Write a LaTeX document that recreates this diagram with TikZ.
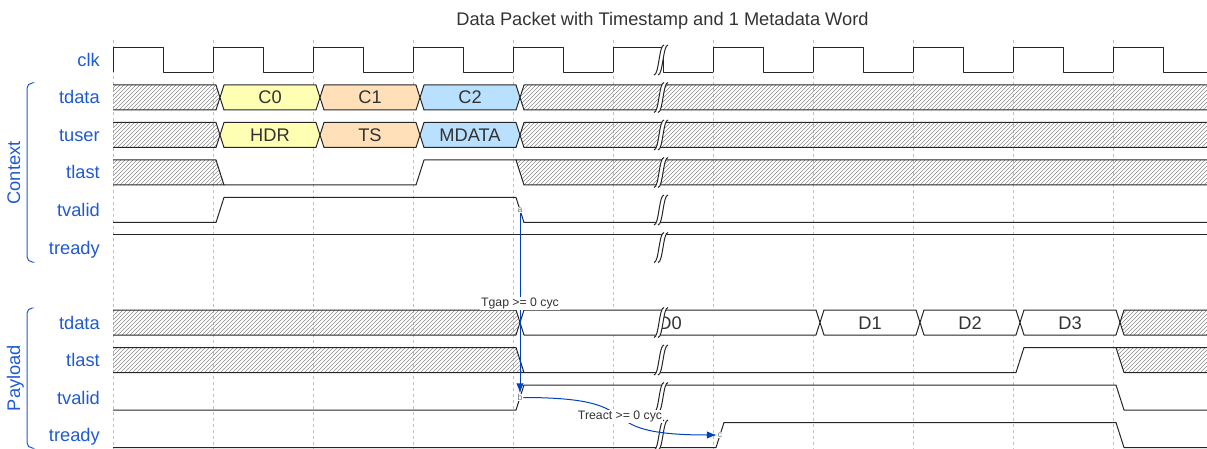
\documentclass[tikz,border=0pt]{standalone}
\usepackage{fontspec}
\setmainfont{Liberation Sans}
\usetikzlibrary{patterns,arrows.meta}
\definecolor{wdblue}{RGB}{30,90,210}
\definecolor{arrblue}{RGB}{0,65,196}
\definecolor{sy}{HTML}{FFFFB4}
\definecolor{so}{HTML}{FFE0B9}
\definecolor{sb}{HTML}{B9E0FF}
\newcommand\mydata[6]{%
  \draw[wave, fill=#4] (#1,#3+12.5) -- (#1+4,#3) -- (#2-4,#3) -- (#2,#3+12.5) -- (#2-4,#3+25) -- (#1+4,#3+25) -- cycle;
  \node[dtxt] (#6) at ({(#1+#2)/2},#3+19) {#5};}
\begin{document}
\begin{tikzpicture}[x=0.75pt,y=-0.75pt,
  wave/.style={line width=0.75pt, draw=black!85, line join=round},
  hatch/.style={pattern=north east lines, pattern color=black!45},
  gridline/.style={draw=black!25, line width=0.75pt, dash pattern=on 2.25pt off 2.25pt},
  lbl/.style={font=\fontsize{13.7pt}{16pt}\selectfont, text=wdblue, anchor=base east, inner sep=0pt},
  grp/.style={font=\fontsize{13.7pt}{16pt}\selectfont, text=wdblue, anchor=base, rotate=90, inner sep=0pt},
  dtxt/.style={font=\fontsize{13.7pt}{16pt}\selectfont, text=black!80, anchor=base, inner sep=0pt},
  ttl/.style={font=\fontsize{13.7pt}{16pt}\selectfont, text=black!80, anchor=base, inner sep=0pt},
  brace/.style={draw=wdblue, line width=0.75pt, rounded corners=4pt},
  nlbl/.style={font=\fontsize{6.5pt}{7pt}\selectfont, text=black!55, fill=white, inner sep=0.5pt},
  alabel/.style={font=\fontsize{9.2pt}{11pt}\selectfont, text=black!80, fill=white, inner sep=0.6pt},
  arr/.style={draw=arrblue, line width=0.75pt, -{Latex[length=7.5pt,width=5.5pt]}}
]
\useasboundingbox (0,0) rectangle (1207,449);
% grid
\foreach \i in {0,...,10} \draw[gridline] (113+100*\i,40) -- (113+100*\i,449);
% title
\node[ttl] (title) at (662.5,26) {Data Packet with Timestamp and 1 Metadata Word};
% signal labels
\node[lbl] (l-clk) at (100,66.5) {clk};
\node[lbl] (l-ctdata) at (100,104) {tdata};
\node[lbl] (l-ctuser) at (100,141.5) {tuser};
\node[lbl] (l-ctlast) at (100,179) {tlast};
\node[lbl] (l-ctvalid) at (100,216.5) {tvalid};
\node[lbl] (l-ctready) at (100,254) {tready};
\node[lbl] (l-ptdata) at (100,329) {tdata};
\node[lbl] (l-ptlast) at (100,366.5) {tlast};
\node[lbl] (l-ptvalid) at (100,404) {tvalid};
\node[lbl] (l-ptready) at (100,441.5) {tready};
% groups
\node[grp] (g-ctx) at (20,173) {Context};
\node[grp] (g-pay) at (20,378) {Payload};
\draw[brace] (32,83) -- (27,83) -- (27,262) -- (32,262);
\draw[brace] (32,308) -- (27,308) -- (27,448) -- (32,448);
% clk
\foreach \i in {0,...,10} \draw[wave] (113+100*\i,72.5) -- ++(0,-25) -- ++(50,0) -- ++(0,25) -- ++(50,0);
% context tdata
\draw[wave,hatch] (113,85) -- (216,85) -- (220,97.5) -- (216,110) -- (113,110);
\mydata{220}{320}{85}{sy}{C0}{d-c0}
\mydata{320}{420}{85}{so}{C1}{d-c1}
\mydata{420}{520}{85}{sb}{C2}{d-c2}
\draw[wave,hatch] (1212,85) -- (524,85) -- (520,97.5) -- (524,110) -- (1212,110);
% context tuser
\draw[wave,hatch] (113,122.5) -- (216,122.5) -- (220,135) -- (216,147.5) -- (113,147.5);
\mydata{220}{320}{122.5}{sy}{HDR}{d-hdr}
\mydata{320}{420}{122.5}{so}{TS}{d-ts}
\mydata{420}{520}{122.5}{sb}{MDATA}{d-mdata}
\draw[wave,hatch] (1212,122.5) -- (524,122.5) -- (520,135) -- (524,147.5) -- (1212,147.5);
% context tlast
\draw[wave,hatch] (113,160) -- (216,160) -- (224,185) -- (113,185);
\draw[wave] (224,185) -- (416,185) -- (424,160) -- (516,160);
\draw[wave,hatch] (1212,160) -- (516,160) -- (524,185) -- (1212,185);
% context tvalid
\draw[wave] (113,222.5) -- (216,222.5) -- (224,197.5) -- (516,197.5) -- (524,222.5) -- (1212,222.5);
% context tready
\draw[wave] (113,235) -- (1212,235);
% payload tdata
\draw[wave,hatch] (113,310) -- (516,310) -- (520,322.5) -- (516,335) -- (113,335);
\mydata{520}{820}{310}{white}{D0}{d-d0}
\mydata{820}{920}{310}{white}{D1}{d-d1}
\mydata{920}{1020}{310}{white}{D2}{d-d2}
\mydata{1020}{1120}{310}{white}{D3}{d-d3}
\draw[wave,hatch] (1212,310) -- (1124,310) -- (1120,322.5) -- (1124,335) -- (1212,335);
% payload tlast
\draw[wave,hatch] (113,347.5) -- (516,347.5) -- (524,372.5) -- (113,372.5);
\draw[wave] (524,372.5) -- (1016,372.5) -- (1024,347.5) -- (1116,347.5);
\draw[wave,hatch] (1212,347.5) -- (1116,347.5) -- (1124,372.5) -- (1212,372.5);
% payload tvalid
\draw[wave] (113,410) -- (516,410) -- (524,385) -- (1116,385) -- (1124,410) -- (1212,410);
% payload tready
\draw[wave] (113,447.5) -- (716,447.5) -- (724,422.5) -- (1116,422.5) -- (1124,447.5) -- (1212,447.5);
% gap marks
\foreach \T in {47.5,85,122.5,160,197.5,235,310,347.5,385,422.5} {
  \fill[white] (654,\T+27.5) .. controls (659,\T+27.5) and (659,\T-2.5) .. (664,\T-2.5) -- (668,\T-2.5) .. controls (663,\T-2.5) and (663,\T+27.5) .. (658,\T+27.5) -- cycle;
  \draw[wave] (654,\T+27.5) .. controls (659,\T+27.5) and (659,\T-2.5) .. (664,\T-2.5);
  \draw[wave] (658,\T+27.5) .. controls (663,\T+27.5) and (663,\T-2.5) .. (668,\T-2.5);
}
% nodes and arrows
\node[nlbl] (a) at (520,210) {a};
\node[nlbl] (b) at (520,397.5) {b};
\node[nlbl] (c) at (720,435) {c};
\draw[arr] (a) -- (b) node[midway, alabel] (tgap) {Tgap >= 0 cyc};
\draw[arr] (b) .. controls (660,397.5) and (580,435) .. (c) node[pos=0.5, alabel] (treact) {Treact >= 0 cyc};
\end{tikzpicture}
\end{document}
